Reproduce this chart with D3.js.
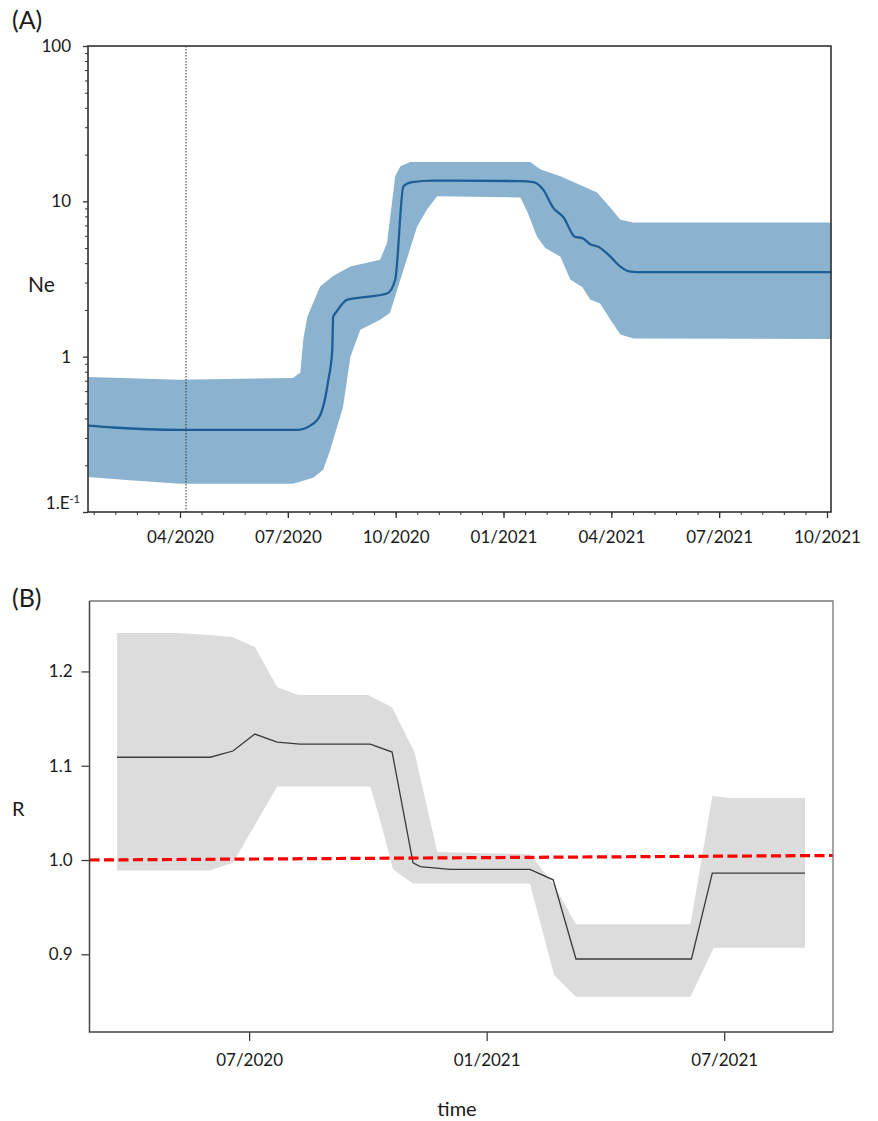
<!DOCTYPE html>
<html>
<head>
<meta charset="utf-8">
<script src="https://cdn.jsdelivr.net/npm/d3@7"></script>
<style>
  html, body { margin: 0; padding: 0; background: #fff; }
  svg { display: block; }
  text { font-family: Lato, "Open Sans", sans-serif; fill: #1a1a1a; }
</style>
</head>
<body>
<svg id="chart" width="878" height="1121"></svg>
<script>
// ---------- Panel A data (time in decimal years, Ne) ----------
const neMedianT = [2020.037, 2020.095, 2020.250, 2020.522, 2020.552, 2020.575, 2020.594, 2020.603, 2020.605, 2020.613, 2020.638, 2020.668, 2020.730, 2020.749, 2020.768, 2020.788, 2020.837, 2021.039, 2021.069, 2021.092, 2021.115, 2021.139, 2021.166, 2021.183, 2021.201, 2021.220, 2021.248, 2021.271, 2021.294, 2021.324, 2021.760];
const neMedian  = [0.36, 0.35, 0.338, 0.338, 0.36, 0.42, 0.71, 1.1, 1.8, 1.95, 2.33, 2.4, 2.55, 3.14, 12.5, 13.3, 13.6, 13.5, 13.3, 11.9, 9.1, 7.9, 5.9, 5.8, 5.3, 5.1, 4.4, 3.8, 3.53, 3.5, 3.5];

const neUpperT = [2020.037, 2020.250, 2020.512, 2020.529, 2020.536, 2020.545, 2020.559, 2020.575, 2020.605, 2020.645, 2020.714, 2020.730, 2020.749, 2020.761, 2020.784, 2021.062, 2021.085, 2021.132, 2021.162, 2021.217, 2021.248, 2021.271, 2021.301, 2021.760];
const neUpper  = [0.74, 0.71, 0.73, 0.79, 1.3, 1.8, 2.23, 2.83, 3.3, 3.8, 4.2, 5.4, 14.5, 16.8, 17.9, 17.9, 16.1, 14.5, 13.3, 11.4, 9.1, 7.6, 7.3, 7.3];

const neLowerT = [2020.037, 2020.134, 2020.250, 2020.512, 2020.559, 2020.582, 2020.598, 2020.628, 2020.645, 2020.668, 2020.714, 2020.737, 2020.761, 2020.800, 2020.823, 2020.846, 2021.039, 2021.055, 2021.078, 2021.097, 2021.132, 2021.155, 2021.183, 2021.201, 2021.224, 2021.248, 2021.271, 2021.301, 2021.760];
const neLower  = [0.168, 0.16, 0.152, 0.152, 0.166, 0.187, 0.25, 0.475, 1.0, 1.49, 1.73, 1.92, 3.14, 6.9, 8.9, 10.8, 10.6, 8.6, 5.9, 5.0, 4.4, 3.14, 2.8, 2.33, 2.2, 1.73, 1.39, 1.31, 1.30];

const neMarkerT = 2020.264;   // dotted vertical line
const neXTicks = [2020.25, 2020.5, 2020.75, 2021.0, 2021.25, 2021.5, 2021.75];
const neYTicks = [0.1, 1, 10, 100];
const neYLabels = ["1.E-1", "1", "10", "100"];

// ---------- Panel B data (time in decimal years, R) ----------
const rMedianT = [2020.222, 2020.418, 2020.466, 2020.512, 2020.559, 2020.607, 2020.755, 2020.801, 2020.845, 2020.860, 2020.923, 2021.091, 2021.140, 2021.188, 2021.431, 2021.475, 2021.670];
const rMedian  = [1.109, 1.109, 1.1156, 1.1336, 1.125, 1.123, 1.123, 1.1145, 0.997, 0.993, 0.990, 0.990, 0.979, 0.895, 0.895, 0.986, 0.986];

const rUpperT = [2020.222, 2020.348, 2020.418, 2020.464, 2020.512, 2020.559, 2020.603, 2020.750, 2020.801, 2020.848, 2020.896, 2021.091, 2021.140, 2021.188, 2021.429, 2021.475, 2021.512, 2021.670];
const rUpper  = [1.2407, 1.2407, 1.2386, 1.2365, 1.226, 1.1835, 1.175, 1.175, 1.162, 1.1145, 1.0085, 1.006, 0.975, 0.932, 0.932, 1.068, 1.0657, 1.0657];

const rLowerT = [2020.222, 2020.418, 2020.466, 2020.559, 2020.755, 2020.776, 2020.803, 2020.845, 2021.091, 2021.142, 2021.188, 2021.429, 2021.478, 2021.670];
const rLower  = [0.989, 0.989, 0.997, 1.078, 1.078, 1.042, 0.990, 0.975, 0.975, 0.878, 0.855, 0.855, 0.907, 0.907];

const refT = [2020.164, 2021.729];
const refR = [1.0, 1.0048];
const rXTicks = [2020.5, 2021.0, 2021.5];
const rYTicks = [0.9, 1.0, 1.1, 1.2];

// ---------- helpers ----------
function fmtMonth(t) {
  const y = Math.floor(t + 1e-9);
  const m = Math.round((t - y) * 12) + 1;
  return String(m).padStart(2, "0") + "/" + y;
}
const zip = (a, b) => a.map((v, i) => [v, b[i]]);

const svg = d3.select("#chart");
svg.append("rect").attr("width", 878).attr("height", 1121).attr("fill", "#fff");

// ================= PANEL A =================
const xA = d3.scaleLinear().domain([2020.0367, 2021.7593]).range([88, 831]);
const yA = d3.scaleLog().domain([0.1, 100]).range([512, 46]);
const gA = svg.append("g");

const lineA = d3.line().x(d => xA(d[0])).y(d => yA(d[1]));
const bandA = zip(neUpperT, neUpper).concat(zip(neLowerT, neLower).reverse());
gA.append("path").attr("d", lineA(bandA) + "Z")
  .attr("fill", "#8bb3cf").attr("stroke", "none");

gA.append("path").attr("d", d3.line().x(d => xA(d[0])).y(d => yA(d[1])).curve(d3.curveMonotoneX)(zip(neMedianT, neMedian)))
  .attr("fill", "none").attr("stroke", "#1d5e97").attr("stroke-width", 2.3);

gA.append("line")
  .attr("x1", xA(neMarkerT)).attr("x2", xA(neMarkerT))
  .attr("y1", yA(100)).attr("y2", yA(0.1))
  .attr("stroke", "#333").attr("stroke-width", 1).attr("stroke-dasharray", "1.5,1.5");

// x axis A: minor ticks every 0.05 year
const minorA = d3.range(2020.05, 2021.7601, 0.05).map(v => +v.toFixed(3));
gA.append("g").attr("transform", "translate(0,512)")
  .call(d3.axisBottom(xA).tickValues(minorA).tickSize(3).tickSizeOuter(0).tickFormat(""))
  .call(g => g.select(".domain").remove())
  .selectAll("line").attr("stroke", "#333");
gA.append("g").attr("transform", "translate(0,512)")
  .call(d3.axisBottom(xA).tickValues(neXTicks).tickSize(6).tickPadding(13).tickSizeOuter(0).tickFormat(fmtMonth))
  .call(g => g.select(".domain").remove())
  .call(g => g.selectAll("line").attr("stroke", "#333").attr("stroke-width", 1.3))
  .call(g => g.selectAll("text").attr("font-size", 17).attr("font-family", "Lato").attr("fill", "#1a1a1a"));

// y axis A: minor ticks 2..9 per decade
const minorY = [];
[0.1, 1, 10].forEach(d => { for (let k = 2; k <= 9; k++) minorY.push(d * k); });
gA.append("g").attr("transform", "translate(88,0)")
  .call(d3.axisLeft(yA).tickValues(minorY).tickSize(3).tickSizeOuter(0).tickFormat(""))
  .call(g => g.select(".domain").remove())
  .selectAll("line").attr("stroke", "#333");
const yAxA = gA.append("g").attr("transform", "translate(88,0)")
  .call(d3.axisLeft(yA).tickValues(neYTicks).tickSize(5).tickPadding(12).tickSizeOuter(0)
        .tickFormat((d, i) => neYLabels[i]))
  .call(g => g.select(".domain").remove())
  .call(g => g.selectAll("line").attr("stroke", "#333").attr("stroke-width", 1.3))
  .call(g => g.selectAll("text").attr("font-size", 17).attr("font-family", "Lato").attr("fill", "#1a1a1a"));
// superscript formatting of 1.E-1
yAxA.selectAll(".tick text").each(function(d) {
  if (d === 0.1) {
    const t = d3.select(this);
    t.text(null).attr("dy", "-0.2em").attr("x", -8);
    t.append("tspan").text("1.E");
    t.append("tspan").text("-1").attr("font-size", 11).attr("dy", "-0.55em");
  }
});

// frame A
gA.append("rect").attr("x", 88).attr("y", 46).attr("width", 831 - 88).attr("height", 512 - 46)
  .attr("fill", "none").attr("stroke", "#333").attr("stroke-width", 1.6);

gA.append("text").attr("x", 28).attr("y", 292).attr("font-size", 21).text("Ne");
svg.append("text").attr("x", 12).attr("y", 29).attr("font-size", 25)
  .attr("font-family", "Liberation Sans, Arial, sans-serif").text("(A)");

// ================= PANEL B =================
const xB = d3.scaleLinear().domain([2020.164, 2021.729]).range([89.5, 833]);
const yB = d3.scaleLinear().domain([0.8176, 1.2747]).range([1032, 601]);
const gB = svg.append("g");
const lineB = d3.line().x(d => xB(d[0])).y(d => yB(d[1]));

const bandB = zip(rUpperT, rUpper).concat(zip(rLowerT, rLower).reverse());
gB.append("path").attr("d", lineB(bandB) + "Z").attr("fill", "#dcdcdc").attr("stroke", "none");

gB.append("path").attr("d", lineB(zip(rMedianT, rMedian)))
  .attr("fill", "none").attr("stroke", "#3a3a3a").attr("stroke-width", 1.3);

gB.append("path").attr("d", lineB(zip(refT, refR)))
  .attr("fill", "none").attr("stroke", "#ff0000").attr("stroke-width", 3.2)
  .attr("stroke-dasharray", "10,4.5");

gB.append("g").attr("transform", "translate(0,1032)")
  .call(d3.axisBottom(xB).tickValues(rXTicks).tickSize(9).tickPadding(13).tickSizeOuter(0).tickFormat(fmtMonth))
  .call(g => g.select(".domain").remove())
  .call(g => g.selectAll("line").attr("stroke", "#333").attr("stroke-width", 1.2))
  .call(g => g.selectAll("text").attr("font-size", 17).attr("font-family", "Lato").attr("fill", "#1a1a1a"));

gB.append("g").attr("transform", "translate(89.5,0)")
  .call(d3.axisLeft(yB).tickValues(rYTicks).tickSize(8).tickPadding(9).tickSizeOuter(0).tickFormat(d3.format(".1f")))
  .call(g => g.select(".domain").remove())
  .call(g => g.selectAll("line").attr("stroke", "#333").attr("stroke-width", 1.2))
  .call(g => g.selectAll("text").attr("font-size", 17).attr("font-family", "Lato").attr("fill", "#1a1a1a"));

// frame B
gB.append("path").attr("d", `M89.5,601 H833 V1032`).attr("fill", "none").attr("stroke", "#777").attr("stroke-width", 1.3);
gB.append("path").attr("d", `M89.5,601 V1032 H833`).attr("fill", "none").attr("stroke", "#444").attr("stroke-width", 1.5);

gB.append("text").attr("x", 12).attr("y", 816).attr("font-size", 20).text("R");
gB.append("text").attr("x", 457).attr("y", 1116).attr("text-anchor", "middle").attr("font-size", 20).text("time");
svg.append("text").attr("x", 12).attr("y", 607).attr("font-size", 25)
  .attr("font-family", "Liberation Sans, Arial, sans-serif").text("(B)");
</script>
</body>
</html>
